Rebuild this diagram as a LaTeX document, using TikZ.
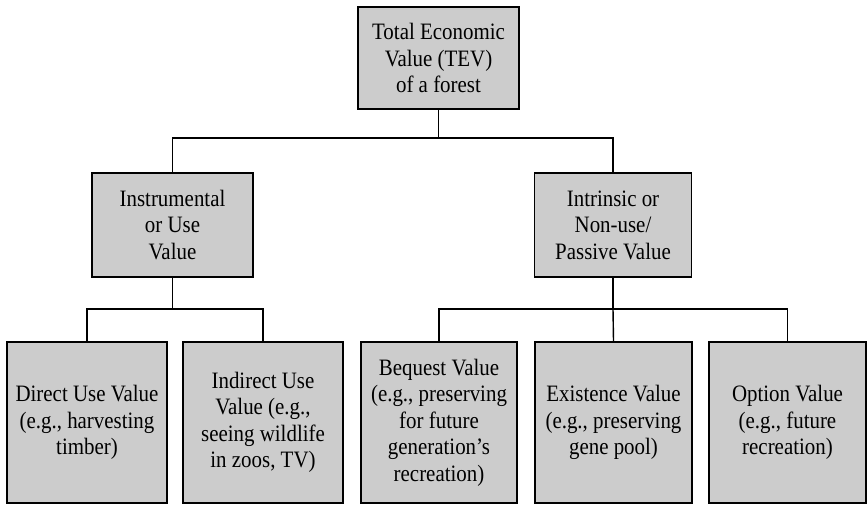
\documentclass[tikz,border=0pt]{standalone}
\usepackage{fontspec}
\setmainfont[FakeStretch=0.89]{Liberation Serif}
\definecolor{boxgray}{HTML}{CCCCCC}
\begin{document}
\begin{tikzpicture}[x=1pt,y=-1pt,
  vbox/.style={draw=black, line width=1.7pt, fill=boxgray, rectangle, align=center,
    inner sep=0pt, font=\fontsize{23.5}{26.5}\selectfont},
  link/.style={draw=black, line width=1.4pt}]
\useasboundingbox (0,0) rectangle (867,504);
\node[vbox, minimum width=161, minimum height=102] (tev) at (438.5,58)
  {Total Economic\\Value (TEV)\\of a forest};
\node[vbox, minimum width=161, minimum height=104] (instr) at (172.5,225)
  {Instrumental\\or Use\\Value};
\node[vbox, minimum width=157, minimum height=104] (intr) at (613,225)
  {Intrinsic or\\Non-use/\\Passive Value};
\node[vbox, minimum width=160, minimum height=161] (direct) at (87,422.5)
  {Direct Use Value\\(e.g., harvesting\\timber)};
\node[vbox, minimum width=160, minimum height=161] (indirect) at (263,422.5)
  {Indirect Use\\Value (e.g.,\\seeing wildlife\\in zoos, TV)};
\node[vbox, minimum width=156, minimum height=161] (bequest) at (439,422.5)
  {Bequest Value\\(e.g., preserving\\for future\\generation’s\\recreation)};
\node[vbox, minimum width=157, minimum height=161] (exist) at (613.5,422.5)
  {Existence Value\\(e.g., preserving\\gene pool)};
\node[vbox, minimum width=157, minimum height=161] (option) at (787.5,422.5)
  {Option Value\\(e.g., future\\recreation)};
\coordinate (b1) at (438.5,138);
\coordinate (b2) at (172.5,309);
\coordinate (b3) at (613,309);
\draw[link] (tev.south) -- (b1);
\draw[link] (instr.north) |- (b1) -| (intr.north);
\draw[link] (instr.south) -- (b2);
\draw[link] (direct.north) |- (b2) -| (indirect.north);
\draw[link] (intr.south) -- (b3);
\draw[link] (bequest.north) |- (b3) -| (option.north);
\draw[link] (exist.north) -- (b3);
\end{tikzpicture}
\end{document}
